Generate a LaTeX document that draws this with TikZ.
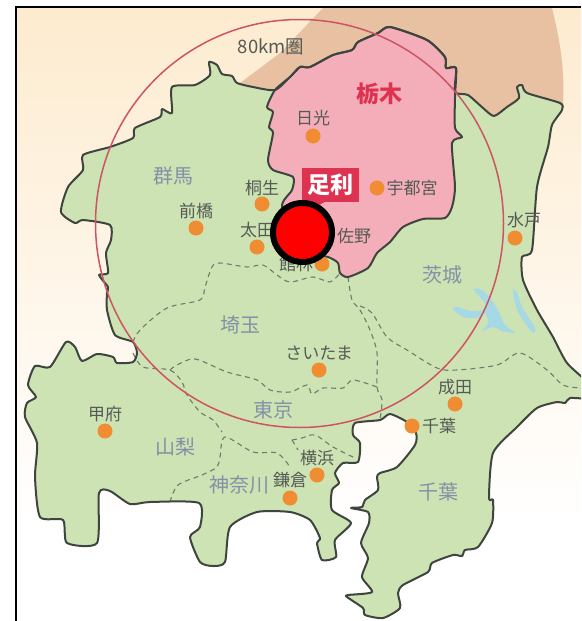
\documentclass[tikz,border=0pt]{standalone}
\usepackage{fontspec}
\setmainfont{Noto Sans CJK JP}
\definecolor{landgreen}{HTML}{CDE3B4}
\definecolor{tochigipink}{HTML}{F4AEB9}
\definecolor{northbrown}{HTML}{E8C1A3}
\definecolor{creamtop}{HTML}{FDEBCF}
\definecolor{lakeblue}{HTML}{A6D9E6}
\definecolor{coastgrey}{HTML}{3E443E}
\definecolor{dashgrey}{HTML}{6E7C6C}
\definecolor{ringred}{HTML}{CF5463}
\definecolor{dotorange}{HTML}{F08D32}
\definecolor{prefblue}{HTML}{8391A6}
\definecolor{cityink}{HTML}{555A55}
\definecolor{ashired}{HTML}{DE3350}
\tikzset{
  coast/.style={draw=coastgrey,line width=2pt,line join=round},
  border/.style={draw=dashgrey,line width=1.1pt,dash pattern=on 5pt off 4pt},
  citydot/.style={circle,fill=dotorange,minimum size=15pt,inner sep=0pt},
  citylabel/.style={text=cityink,font=\fontsize{17}{17}\selectfont,inner sep=0pt},
  preflabel/.style={text=prefblue,font=\fontsize{20}{20}\selectfont,inner sep=0pt},
  namebox/.style={fill=ashired,text=white,font=\fontsize{23}{23}\selectfont\bfseries,minimum width=57pt,minimum height=34pt,inner sep=0pt}
}
\def\landshape{(209,62) (217,65) (222,74) (232,76) (237,83) (253,87) (275,90) (290,77) (300,67) (310,67) (333,55) (352,50) (358,42) (378,33) (390,27) (427,40) (445,57) (446,68) (456,68) (455,92) (468,95) (483,108) (494,116) (507,107) (519,98) (517,87) (522,85) (527,93) (560,103) (562,110) (552,125) (548,147) (537,187) (532,250) (522,257) (523,280) (537,310) (553,337) (567,363) (590,385) (590,398) (570,398) (565,403) (557,402) (537,408) (517,427) (493,453) (489,498) (493,500) (492,523) (478,547) (465,550) (462,556) (453,555) (432,563) (428,572) (403,585) (398,593) (400,608) (383,618) (365,615) (363,608) (347,597) (348,595) (372,592) (362,577) (368,558) (361,543) (369,523) (368,512) (351,508) (362,507) (365,500) (378,490) (377,477) (380,473) (397,467) (415,445) (416,433) (407,422) (390,414) (380,420) (355,423) (353,435) (360,443) (358,462) (343,463) (335,473) (339,483) (332,490) (332,510) (351,523) (335,540) (336,557) (322,560) (317,543) (320,538) (310,520) (290,512) (257,512) (230,527) (225,562) (213,566) (200,562) (190,537) (200,527) (199,503) (150,502) (130,504) (110,491) (99,493) (97,543) (67,543) (63,520) (40,517) (35,477) (37,443) (25,417) (27,403) (36,397) (28,385) (35,366) (50,367) (66,342) (75,347) (82,361) (97,354) (113,357) (117,363) (133,362) (137,353) (133,342) (115,335) (107,310) (107,293) (108,287) (99,275) (108,273) (106,253) (111,240) (110,225) (83,220) (75,223) (61,212) (68,187) (83,170) (83,155) (110,147) (133,138) (135,128) (160,117) (162,109) (172,113) (172,87) (195,85) (210,75)}
\def\tochigishape{(275,90) (290,77) (300,67) (310,67) (333,55) (352,50) (358,42) (378,33) (390,27) (427,40) (445,57) (446,68) (456,68) (455,97) (455,128) (462,137) (452,143) (455,187) (452,207) (445,218) (423,219) (403,227) (390,242) (377,253) (368,268) (348,277) (340,273) (338,263) (328,257) (300,250) (282,207) (292,190) (293,177) (273,170) (268,160) (273,133) (269,127) (273,112) (267,107)}
\begin{document}
\begin{tikzpicture}[x=1pt,y=-1pt]
  \useasboundingbox (0,0) rectangle (581,621);
  \clip (0,0) rectangle (581,621);
  \shade[top color=creamtop,bottom color=white] (16,7) rectangle (581,525);
  \fill[northbrown] (240,83) -- (280,53) -- (323,8) -- (552,8) .. controls (560,40) and (565,70) .. (563,105) -- (480,130) -- (300,120) -- cycle;

  \fill[landgreen] plot[smooth cycle,tension=.4] coordinates {\landshape};

  \fill[lakeblue] plot[smooth cycle,tension=.5] coordinates {(473,289) (482,290) (490,298) (498,310) (505,325) (515,333) (502,331) (493,327) (482,331) (488,323) (485,313) (477,318) (463,317) (453,309) (458,307) (470,311) (483,310) (485,303) (480,297)};
  \fill[lakeblue] plot[smooth cycle,tension=.5] coordinates {(513,291) (517,292) (522,307) (535,328) (532,332) (518,312)};

  \draw[border] plot[smooth,tension=.5] coordinates {(133,342) (140,330) (167,308) (200,300) (205,287) (212,267) (220,263) (247,267) (263,265) (277,275) (290,282) (313,277) (330,282) (340,273)};
  \draw[border] plot[smooth,tension=.5] coordinates {(348,277) (352,300) (360,310) (370,330) (377,353) (377,387) (382,400) (380,420)};
  \draw[border] plot[smooth,tension=.5] coordinates {(360,306) (372,313) (387,337) (407,350) (437,368) (457,370) (497,365) (520,353) (547,370) (563,385) (581,388)};
  \draw[border] plot[smooth,tension=.5] coordinates {(133,353) (143,367) (170,370) (182,382) (187,395) (200,412) (213,420) (222,432)};
  \draw[border] plot[smooth,tension=.5] coordinates {(170,370) (177,365) (195,359) (227,372) (257,380) (270,390) (290,392) (307,385) (312,394) (323,388) (343,388) (353,380) (377,387)};
  \draw[border] plot[smooth,tension=.5] coordinates {(170,502) (178,485) (202,475) (217,467) (220,457) (225,437) (253,452) (277,453) (290,467)};
  \draw[border] plot[smooth,tension=.5] coordinates {(292,440) (302,438) (315,435) (333,447) (355,458)};
  \draw[border] (292,440) -- (298,450);

  \fill[tochigipink] plot[smooth cycle,tension=.4] coordinates {\tochigishape};
  \draw[coast] plot[smooth cycle,tension=.4] coordinates {\tochigishape};
  \draw[coast] plot[smooth cycle,tension=.4] coordinates {\landshape};

  \draw[ringred,line width=1.5pt] (299.5,223.5) circle (204);

  \node[citydot] (nikkodot) at (313,136) {};
  \node[citydot] (kiryudot) at (262,204) {};
  \node[citydot] (maebashidot) at (196,228) {};
  \node[citydot] (otadot) at (257,247) {};
  \node[citydot] (tatebayashidot) at (322,264) {};
  \node[citydot] (sanodot) at (327,236) {};
  \node[citydot] (utsunomiyadot) at (377,188) {};
  \node[citydot] (mitodot) at (515,238) {};
  \node[citydot] (saitamadot) at (319,370) {};
  \node[citydot] (naritadot) at (455,404) {};
  \node[citydot] (chibadot) at (412,426) {};
  \node[citydot] (kofudot) at (105,431) {};
  \node[citydot] (yokohamadot) at (317,475) {};
  \node[citydot] (kamakuradot) at (290,498) {};

  \node[citylabel,font=\fontsize{18.5}{18.5}\selectfont] (ring) at (271,47) {80km圏};
  \node[citylabel] (nikko) at (313,118) {日光};
  \node[citylabel] (kiryu) at (262,188) {桐生};
  \node[citylabel] (maebashi) at (196,211) {前橋};
  \node[citylabel] (ota) at (257,230) {太田};
  \node[citylabel] (tatebayashi) at (296,264) {館林};
  \node[citylabel] (sano) at (354,236) {佐野};
  \node[citylabel] (utsunomiya) at (412,188) {宇都宮};
  \node[citylabel] (mito) at (524,220) {水戸};
  \node[citylabel] (saitama) at (319,353) {さいたま};
  \node[citylabel] (narita) at (455,387) {成田};
  \node[citylabel] (chiba) at (439,426) {千葉};
  \node[citylabel] (kofu) at (105,414) {甲府};
  \node[citylabel] (yokohama) at (317,458) {横浜};
  \node[citylabel] (kamakura) at (290,480) {鎌倉};

  \node[preflabel] (gunma) at (173,176) {群馬};
  \node[preflabel] (ibaraki) at (442,275) {茨城};
  \node[preflabel] (saitamapref) at (240,325) {埼玉};
  \node[preflabel] (tokyo) at (273,410) {東京};
  \node[preflabel] (yamanashi) at (175,447) {山梨};
  \node[preflabel] (kanagawa) at (239,485) {神奈川};
  \node[preflabel] (chibapref) at (438,492) {千葉};
  \node[preflabel,text=ashired,font=\fontsize{23}{23}\selectfont\bfseries] (tochigi) at (379,94) {栃木};

  \node[namebox] (ashikaga) at (330,185) {足利};
  \fill[ashired] (325,202) -- (300,214) -- (308,202) -- cycle;
  \node[circle,draw=black,fill=red,line width=6pt,minimum size=59pt,inner sep=0pt] (here) at (302.5,232.5) {};

  \draw[black,line width=2pt] (16,621) -- (16,7) -- (581,7);
\end{tikzpicture}
\end{document}
